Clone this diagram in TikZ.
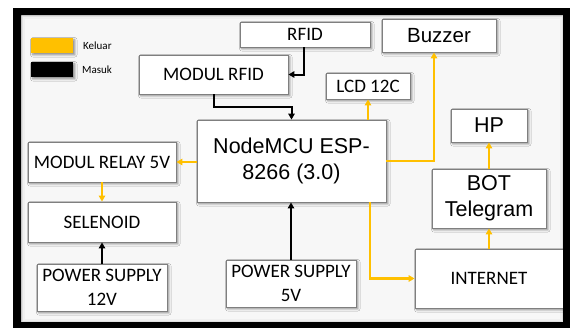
\documentclass[tikz,border=0pt]{standalone}
\usepackage{fontspec}
\setmainfont{Liberation Sans}
\newfontfamily\calfont{Carlito}
\usetikzlibrary{arrows.meta,shadows.blur}
\definecolor{gold}{HTML}{FFC000}
\definecolor{boxline}{HTML}{7F7F7F}
\tikzset{
  shd/.style={blur shadow={shadow xshift=1.8pt,shadow yshift=-1.8pt,shadow blur steps=6,shadow blur radius=2.2pt,shadow opacity=45}},
  box/.style={draw=boxline,line width=0.9pt,fill=white,inner sep=0pt,align=center,shd},
  cbox/.style={box,font=\calfont\fontsize{19}{24}\selectfont},
  abox/.style={box,font=\fontsize{21.5}{26}\selectfont},
  blk/.style={draw=black,line width=2pt,-{Triangle[length=6pt,width=6.5pt]}},
  ylw/.style={draw=gold,line width=2.2pt,-{Triangle[length=6pt,width=6.5pt]}},
  legtxt/.style={font=\calfont\fontsize{11}{13}\selectfont,anchor=west,inner sep=0pt},
}
\begin{document}
\begin{tikzpicture}[x=1pt,y=-1pt]
\useasboundingbox (0,0) rectangle (570,327);
% frame background
\fill[black] (13,8) rectangle (575,332);
\fill[black!12] (21,15) rectangle (563,322);
\fill[black!6] (22.5,16.5) rectangle (561.5,320.5);
\fill[white!97!black] (24.5,18.5) rectangle (559.5,318.5);
% legend
\node[fill=gold,minimum width=42pt,minimum height=15pt,inner sep=0pt,shd] (legY) at (52,45.5) {};
\node[fill=black,minimum width=42pt,minimum height=15pt,inner sep=0pt,shd] (legB) at (52,69.5) {};
\node[legtxt] (legYt) at (83,46) {Keluar};
\node[legtxt] (legBt) at (82,70) {Masuk};
% boxes
\node[cbox,minimum width=130pt,minimum height=25pt] (rfid) at (305,34.5) {RFID};
\node[abox,minimum width=114pt,minimum height=33pt,font=\fontsize{20.5}{24}\selectfont] (buzzer) at (439,35.5) {Buzzer};
\node[cbox,minimum width=149pt,minimum height=39pt] (modrfid) at (213.5,74.5) {MODUL RFID};
\node[cbox,minimum width=84pt,minimum height=26pt] (lcd) at (368,86) {LCD 12C};
\node[abox,minimum width=189pt,minimum height=82pt] (mcu) at (291.5,161) {NodeMCU ESP-\\8266 (3.0)};
\node[abox,minimum width=76pt,minimum height=33pt] (hp) at (489,125.5) {HP};
\node[abox,minimum width=114pt,minimum height=59pt] (bot) at (489,198.5) {BOT\\Telegram};
\node[cbox,minimum width=148pt,minimum height=40pt] (relay) at (102,162) {MODUL RELAY 5V};
\node[cbox,minimum width=148pt,minimum height=40pt] (sel) at (102,222) {SELENOID};
\node[cbox,minimum width=130pt,minimum height=47pt] (ps12) at (102,287.5) {POWER SUPPLY\\12V};
\node[cbox,minimum width=130pt,minimum height=47pt] (ps5) at (291,283.5) {POWER SUPPLY\\5V};
\node[cbox,minimum width=150pt,minimum height=59pt] (inet) at (490,278.5) {\hspace*{-2pt}INTERNET};
% connectors
\draw[blk] ([xshift=-1pt]rfid.south) |- (modrfid.east);
\draw[blk] (modrfid.south) -- ++(0,12.5) -| (mcu.north);
\draw[ylw] (mcu.north -| lcd.south) -- (lcd.south);
\draw[ylw] (mcu.east) -| ([xshift=-5pt]buzzer.south);
\draw[ylw] (mcu.west |- relay.east) -- (relay.east);
\draw[ylw] (relay.south) -- (sel.north);
\draw[blk] (ps12.north) -- (sel.south);
\draw[blk] (ps5.north) -- (ps5.north |- mcu.south);
\draw[ylw] ([xshift=78.5pt]mcu.south) |- (inet.west);
\draw[ylw] (inet.north -| bot.south) -- (bot.south);
\draw[ylw] (bot.north) -- (hp.south);
% frame border on top
\fill[black,even odd rule] (13,8) rectangle (575,332) (21,15) rectangle (563,322);
\end{tikzpicture}
\end{document}
